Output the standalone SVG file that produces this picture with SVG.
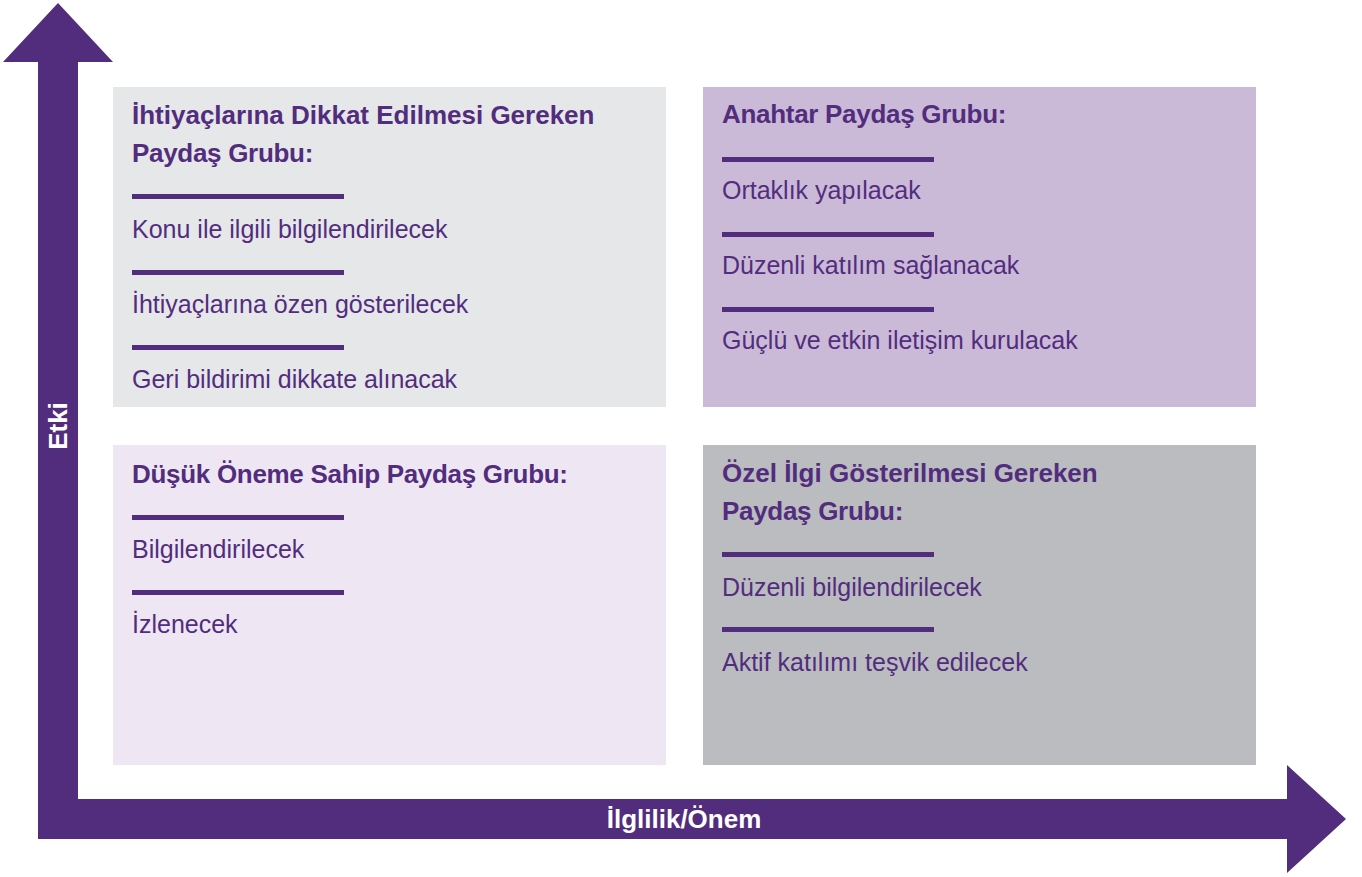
<svg xmlns="http://www.w3.org/2000/svg" width="1362" height="877" viewBox="0 0 1362 877">
  <style>
    .title { font-family: "Liberation Sans", Arial, sans-serif; font-weight: bold; font-size: 26px; letter-spacing: -0.3px; fill: #522d7e; }
    .title.wide { letter-spacing: 0px; }
    .item { font-family: "Liberation Sans", Arial, sans-serif; font-size: 25px; fill: #522d7e; }
    .axis-label { font-family: "Liberation Sans", Arial, sans-serif; font-weight: bold; font-size: 26px; fill: #ffffff; }
    .rule { fill: #522d7e; }
  </style>
  <rect x="0" y="0" width="1362" height="877" fill="#ffffff"/>

  <!-- Quadrant: upper left -->
  <g id="needs-attention">
    <rect x="113" y="87" width="553" height="320" fill="#e6e7e9"/>
    <text class="title wide" x="132" y="124">İhtiyaçlarına Dikkat Edilmesi Gereken</text>
    <text class="title" x="132" y="162">Paydaş Grubu:</text>
    <rect class="rule" x="132" y="194" width="212" height="5"/>
    <text class="item" x="132" y="238">Konu ile ilgili bilgilendirilecek</text>
    <rect class="rule" x="132" y="270" width="212" height="5"/>
    <text class="item" x="132" y="313">İhtiyaçlarına özen gösterilecek</text>
    <rect class="rule" x="132" y="345" width="212" height="5"/>
    <text class="item" x="132" y="388">Geri bildirimi dikkate alınacak</text>
  </g>

  <!-- Quadrant: upper right -->
  <g id="key-group">
    <rect x="703" y="87" width="553" height="320" fill="#cbbad7"/>
    <text class="title" x="722" y="123">Anahtar Paydaş Grubu:</text>
    <rect class="rule" x="722" y="157" width="212" height="5"/>
    <text class="item" x="722" y="199">Ortaklık yapılacak</text>
    <rect class="rule" x="722" y="232" width="212" height="5"/>
    <text class="item" x="722" y="274">Düzenli katılım sağlanacak</text>
    <rect class="rule" x="722" y="307" width="212" height="5"/>
    <text class="item" x="722" y="349">Güçlü ve etkin iletişim kurulacak</text>
  </g>

  <!-- Quadrant: lower left -->
  <g id="low-importance">
    <rect x="113" y="445" width="553" height="320" fill="#eee7f3"/>
    <text class="title" x="132" y="483">Düşük Öneme Sahip Paydaş Grubu:</text>
    <rect class="rule" x="132" y="515" width="212" height="5"/>
    <text class="item" x="132" y="558">Bilgilendirilecek</text>
    <rect class="rule" x="132" y="590" width="212" height="5"/>
    <text class="item" x="132" y="633">İzlenecek</text>
  </g>

  <!-- Quadrant: lower right -->
  <g id="special-interest">
    <rect x="703" y="445" width="553" height="320" fill="#bbbcc0"/>
    <text class="title wide" x="722" y="482">Özel İlgi Gösterilmesi Gereken</text>
    <text class="title" x="722" y="520">Paydaş Grubu:</text>
    <rect class="rule" x="722" y="552" width="212" height="5"/>
    <text class="item" x="722" y="596">Düzenli bilgilendirilecek</text>
    <rect class="rule" x="722" y="627" width="212" height="5"/>
    <text class="item" x="722" y="671">Aktif katılımı teşvik edilecek</text>
  </g>

  <!-- Axes: vertical and horizontal arrows joined at the corner -->
  <g id="connectors">
    <path d="M3,62 L58,3 L113,62 L78,62 L78,799 L1287,799 L1287,765 L1346,819 L1287,873 L1287,839 L38,839 L38,62 Z" fill="#522d7e"/>
    <text class="axis-label" x="684" y="828" text-anchor="middle">İlglilik/Önem</text>
    <text class="axis-label" transform="translate(67,426) rotate(-90)" x="0" y="0" text-anchor="middle">Etki</text>
  </g>
</svg>
